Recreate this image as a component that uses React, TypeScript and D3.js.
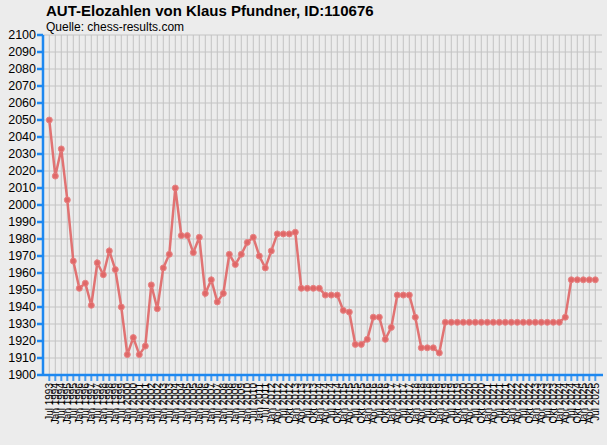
import React from 'react';
import * as d3 from 'd3';

// Rating values, one per published list
const ratings: number[] = [
  2050, 2017, 2033, 2003, 1967, 1951, 1954, 1941, 1966, 1959,
  1973, 1962, 1940, 1912, 1922, 1912, 1917, 1953, 1939, 1963,
  1971, 2010, 1982, 1982, 1972, 1981, 1948, 1956, 1943, 1948,
  1971, 1965, 1971, 1978, 1981, 1970, 1963, 1973, 1983, 1983,
  1983, 1984, 1951, 1951, 1951, 1951, 1947, 1947, 1947, 1938,
  1937, 1918, 1918, 1921, 1934, 1934, 1921, 1928, 1947, 1947,
  1947, 1934, 1916, 1916, 1916, 1913, 1931, 1931, 1931, 1931,
  1931, 1931, 1931, 1931, 1931, 1931, 1931, 1931, 1931, 1931,
  1931, 1931, 1931, 1931, 1931, 1931, 1934, 1956, 1956, 1956,
  1956, 1956,
];

// Half-yearly lists until Jan 2012, quarterly afterwards
const halfYearMonths = ['Jan', 'Jul'];
const quarterMonths = ['Jan', 'Apr', 'Jul', 'Okt'];

const buildLabels = (): string[] => {
  const out: string[] = ['Jul 1993'];
  for (let y = 1994; y <= 2011; y++) {
    halfYearMonths.forEach((m) => out.push(`${m} ${y}`));
  }
  out.push('Jan 2012');
  for (let y = 2012; y <= 2025; y++) {
    quarterMonths.forEach((m) => {
      if (y === 2012 && m === 'Jan') return;
      if (y === 2025 && m === 'Okt') return;
      out.push(`${m} ${y}`);
    });
  }
  return out;
};
const dateLabels = buildLabels();

const yTicks = d3.range(1900, 2101, 10);

const W = 607;
const H = 445;
const BLUE = '#1e88f0';
const LINE = '#e06666';
const FONT = '"Liberation Sans", Arial, sans-serif';

export default function App() {
  const x = d3.scaleLinear().domain([0, ratings.length - 1]).range([49.3, 595.3]);
  const y = d3.scaleLinear().domain([1900, 2100]).range([375, 35]);
  const left = 43;
  const right = 603;

  const line = d3
    .line<number>()
    .x((_, i) => x(i))
    .y((d) => y(d));

  return (
    <svg
      width={W}
      height={H}
      style={{position: 'absolute', left: 0, top: 0, background: '#ececec'}}
      fontFamily={FONT}
    >
      <rect width={W} height={H} fill="#ececec" />
      <text x={46} y={16} fontSize={15} fontWeight="bold" fill="#000">
        AUT-Elozahlen von Klaus Pfundner, ID:110676
      </text>
      <text x={46} y={31} fontSize={12} fill="#000">
        Quelle: chess-results.com
      </text>

      {/* grid */}
      <g stroke="#c4c4c4" strokeWidth={1}>
        {ratings.map((_, i) => (
          <line key={`v${i}`} x1={x(i)} x2={x(i)} y1={y(2100)} y2={y(1900)} />
        ))}
        {yTicks.map((t) => (
          <line key={`h${t}`} x1={left} x2={right - 1} y1={y(t)} y2={y(t)} />
        ))}
      </g>

      {/* y axis */}
      <g>
        <line x1={left} x2={left} y1={y(2100)} y2={y(1900) + 1} stroke={BLUE} strokeWidth={2.5} />
        {yTicks.map((t) => (
          <g key={`yt${t}`}>
            <line x1={left - 6} x2={left} y1={y(t)} y2={y(t)} stroke={BLUE} strokeWidth={2.5} />
            <text
              x={left - 7}
              y={y(t)}
              dy="0.35em"
              textAnchor="end"
              fontSize={12.5}
              fill="#000"
            >
              {t}
            </text>
          </g>
        ))}
      </g>

      {/* x axis */}
      <g>
        <line x1={left} x2={right} y1={y(1900)} y2={y(1900)} stroke={BLUE} strokeWidth={2.5} />
        {dateLabels.map((lab, i) => (
          <g key={`xt${i}`}>
            <line x1={x(i)} x2={x(i)} y1={y(1900)} y2={y(1900) + 6} stroke={BLUE} strokeWidth={2} strokeOpacity={0.8} />
            <text
              transform={`translate(${x(i) + 3.5},${y(1900) + 8}) rotate(-90)`}
              textAnchor="end"
              fontSize={10}
              fill="#000"
            >
              {lab}
            </text>
          </g>
        ))}
      </g>

      {/* series */}
      <path d={line(ratings) ?? ''} fill="none" stroke={LINE} strokeWidth={2.5} strokeOpacity={0.9} />
      {ratings.map((r, i) => (
        <circle
          key={`p${i}`}
          cx={x(i)}
          cy={y(r)}
          r={3}
          fill={LINE}
          stroke="#e88080"
          strokeWidth={1}
          opacity={0.95}
        />
      ))}
    </svg>
  );
}
